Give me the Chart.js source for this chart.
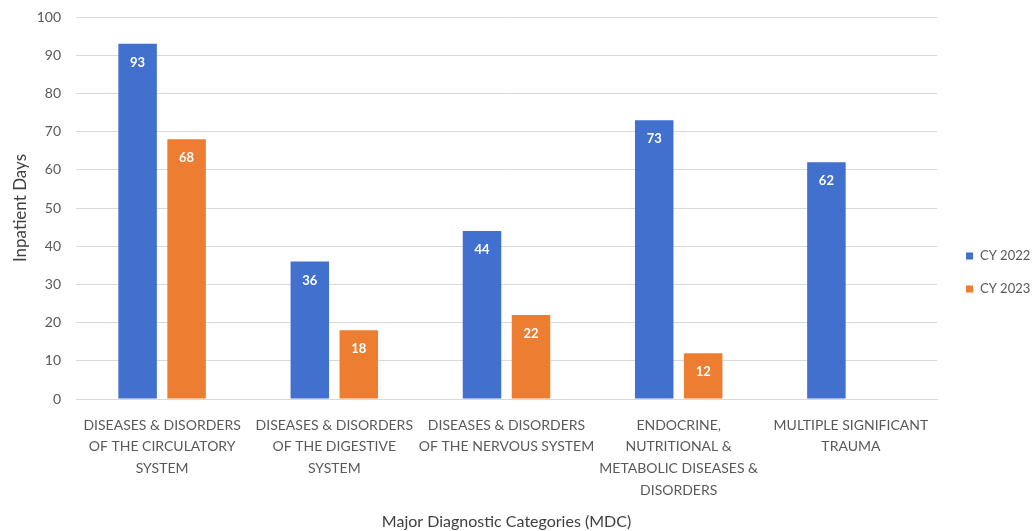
<!DOCTYPE html>
<html>
<head>
<meta charset="utf-8">
<script src="https://cdn.jsdelivr.net/npm/chart.js@4"></script>
<style>
  html, body { margin: 0; padding: 0; background: #fff; }
  #wrap { width: 1036px; height: 531px; }
</style>
</head>
<body>
<div id="wrap"><canvas id="mdcChart" width="1036" height="531"></canvas></div>
<script>
const categories = [
  ['DISEASES & DISORDERS', 'OF THE CIRCULATORY', 'SYSTEM'],
  ['DISEASES & DISORDERS', 'OF THE DIGESTIVE', 'SYSTEM'],
  ['DISEASES & DISORDERS', 'OF THE NERVOUS SYSTEM'],
  ['ENDOCRINE,', 'NUTRITIONAL &', 'METABOLIC DISEASES &', 'DISORDERS'],
  ['MULTIPLE SIGNIFICANT', 'TRAUMA']
];
const cy2022 = [93, 36, 44, 73, 62];
const cy2023 = [68, 18, 22, 12, null];
const yTicks = [0, 10, 20, 30, 40, 50, 60, 70, 80, 90, 100];

const FONT = 'Lato, "Open Sans", sans-serif';
const TEXT = '#595959';

// white value labels just under the top of each bar
const barValues = {
  id: 'barValues',
  afterDatasetsDraw(chart) {
    const ctx = chart.ctx;
    ctx.save();
    ctx.fillStyle = '#ffffff';
    ctx.font = 'bold 13px ' + FONT;
    ctx.textAlign = 'center';
    ctx.textBaseline = 'middle';
    chart.data.datasets.forEach((ds, i) => {
      chart.getDatasetMeta(i).data.forEach((bar, j) => {
        const v = ds.data[j];
        if (v == null) return;
        ctx.fillText(String(v), bar.x, bar.y + 19);
      });
    });
    ctx.restore();
  }
};

// small square-swatch legend in the right margin
const sideLegend = {
  id: 'sideLegend',
  afterDraw(chart) {
    const ctx = chart.ctx;
    const x = chart.chartArea.right + 29;
    const ys = [256, 289];
    ctx.save();
    ctx.font = '13px ' + FONT;
    ctx.textBaseline = 'middle';
    ctx.textAlign = 'left';
    chart.data.datasets.forEach((ds, i) => {
      ctx.fillStyle = ds.backgroundColor;
      ctx.fillRect(x, ys[i] - 3.5, 7, 7);
      ctx.fillStyle = TEXT;
      ctx.fillText(ds.label, x + 14, ys[i]);
    });
    ctx.restore();
  }
};

new Chart(document.getElementById('mdcChart'), {
  type: 'bar',
  data: {
    labels: categories,
    datasets: [
      { label: 'CY 2022', data: cy2022, backgroundColor: '#4170CF', barPercentage: 0.786, categoryPercentage: 0.569 },
      { label: 'CY 2023', data: cy2023, backgroundColor: '#ED7D31', barPercentage: 0.786, categoryPercentage: 0.569 }
    ]
  },
  options: {
    responsive: false,
    animation: false,
    layout: { padding: { top: 17, right: 99, bottom: 0, left: 10 } },
    plugins: {
      tooltip: { enabled: false },
      legend: { display: false }
    },
    scales: {
      x: {
        afterFit(axis) { axis.height = 132; },
        grid: { display: false, drawTicks: false },
        border: { color: '#d9d9d9' },
        ticks: {
          color: TEXT,
          padding: 15,
          maxRotation: 0,
          autoSkip: false,
          font: { family: FONT, size: 14, lineHeight: 1.57 }
        },
        title: {
          display: true,
          text: 'Major Diagnostic Categories (MDC)',
          color: '#404040',
          padding: { top: 0, bottom: 0 },
          font: { family: FONT, size: 16 }
        }
      },
      y: {
        min: 0,
        max: 100,
        afterBuildTicks(axis) { axis.ticks = yTicks.map(v => ({ value: v })); },
        afterFit(axis) {
          axis.width = 66;
          axis.paddingTop = 0;
        },
        grid: { color: '#d9d9d9', drawTicks: false },
        border: { display: false },
        ticks: {
          color: TEXT,
          padding: 15,
          font: { family: FONT, size: 14 }
        },
        title: {
          display: true,
          text: 'Inpatient Days',
          color: '#404040',
          padding: { top: 0, bottom: 0 },
          font: { family: FONT, size: 17 }
        }
      }
    }
  },
  plugins: [barValues, sideLegend]
});
</script>
</body>
</html>
